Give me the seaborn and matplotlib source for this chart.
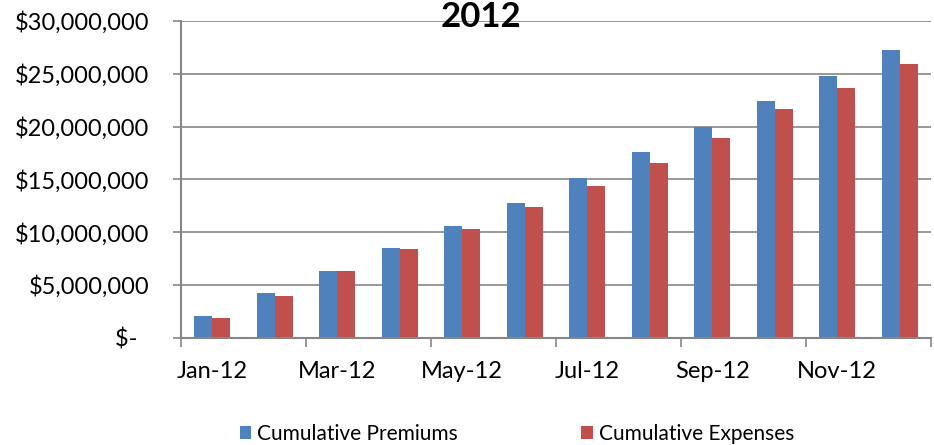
import pandas as pd
import numpy as np
import matplotlib
matplotlib.use('Agg')
import matplotlib.pyplot as plt
import seaborn as sns
from matplotlib.ticker import FuncFormatter, FixedLocator

# ============================================
# DATA
# ============================================
months = ['Jan-12', 'Feb-12', 'Mar-12', 'Apr-12', 'May-12', 'Jun-12',
          'Jul-12', 'Aug-12', 'Sep-12', 'Oct-12', 'Nov-12', 'Dec-12']
premiums = [2060000, 4240000, 6320000, 8470000, 10620000, 12770000,
            15140000, 17570000, 20000000, 22440000, 24830000, 27270000]
expenses = [1870000, 3950000, 6320000, 8380000, 10270000, 12360000,
            14380000, 16530000, 18960000, 21650000, 23640000, 25970000]
series_names = ['Cumulative Premiums', 'Cumulative Expenses']
colors = ['#4F81BD', '#C0504D']

df = pd.DataFrame({
    'month': months * 2,
    'series': [series_names[0]] * 12 + [series_names[1]] * 12,
    'value': premiums + expenses,
})

# ============================================
# PLOT
# ============================================
sns.set_style('white')
plt.rcParams['font.family'] = ['Lato', 'DejaVu Sans']
plt.rcParams['text.color'] = 'black'
plt.rcParams['xtick.color'] = 'black'
plt.rcParams['ytick.color'] = 'black'

fig = plt.figure(figsize=(9.34, 4.45), dpi=100)
ax = fig.add_axes([181/934, 1 - 337.7/445, 750/934, (337.7 - 21)/445])

sns.barplot(data=df, x='month', y='value', hue='series', order=months,
            hue_order=series_names, palette=colors, saturation=1,
            width=0.58, linewidth=0, ax=ax, legend=True)

grid_col = '#868686'
ax.set_ylim(0, 30000000)
ax.set_xlim(-0.5, 11.5)
ax.set_yticks(np.arange(0, 30000001, 5000000))
# accounting style: dash for zero with a little padding on the right
ax.yaxis.set_major_formatter(FuncFormatter(
    lambda v, p: '$-  ' if v == 0 else f'${v:,.0f}'))
ax.yaxis.grid(True, color=grid_col, linewidth=1.2)
ax.set_axisbelow(True)

# ticks between every two months, labels on odd months
ax.xaxis.set_major_locator(FixedLocator(np.arange(-0.5, 12, 2)))
ax.xaxis.set_minor_locator(FixedLocator(np.arange(0, 12, 2)))
ax.set_xticklabels([''] * 7)
ax.set_xticklabels(months[::2], minor=True)
ax.tick_params(axis='x', which='major', direction='out', length=6.5,
               width=1.2, color=grid_col, bottom=True)
ax.tick_params(axis='x', which='minor', length=0, pad=17, labelsize=17)
ax.tick_params(axis='y', direction='out', length=5.8, width=1.2,
               color=grid_col, left=True, pad=17, labelsize=17)

for side in ['top', 'right']:
    ax.spines[side].set_visible(False)
for side in ['left', 'bottom']:
    ax.spines[side].set_color(grid_col)
    ax.spines[side].set_linewidth(1.5)

ax.set_xlabel('')
ax.set_ylabel('')

# legend at the bottom
handles, labels = ax.get_legend_handles_labels()
ax.get_legend().remove()
fig.legend(handles, labels, loc='center', ncol=2,
           bbox_to_anchor=(517/934, 1 - 434/445), frameon=False,
           fontsize=15, handlelength=0.55, handleheight=0.55,
           handletextpad=0.3, columnspacing=5.9)

# title sits at the very top edge as in the original
fig.text(481/934, 1 - 27/445, '2012', ha='center', va='baseline',
         fontsize=25, fontweight='bold')

plt.savefig('out.png', dpi=100)
plt.close()
